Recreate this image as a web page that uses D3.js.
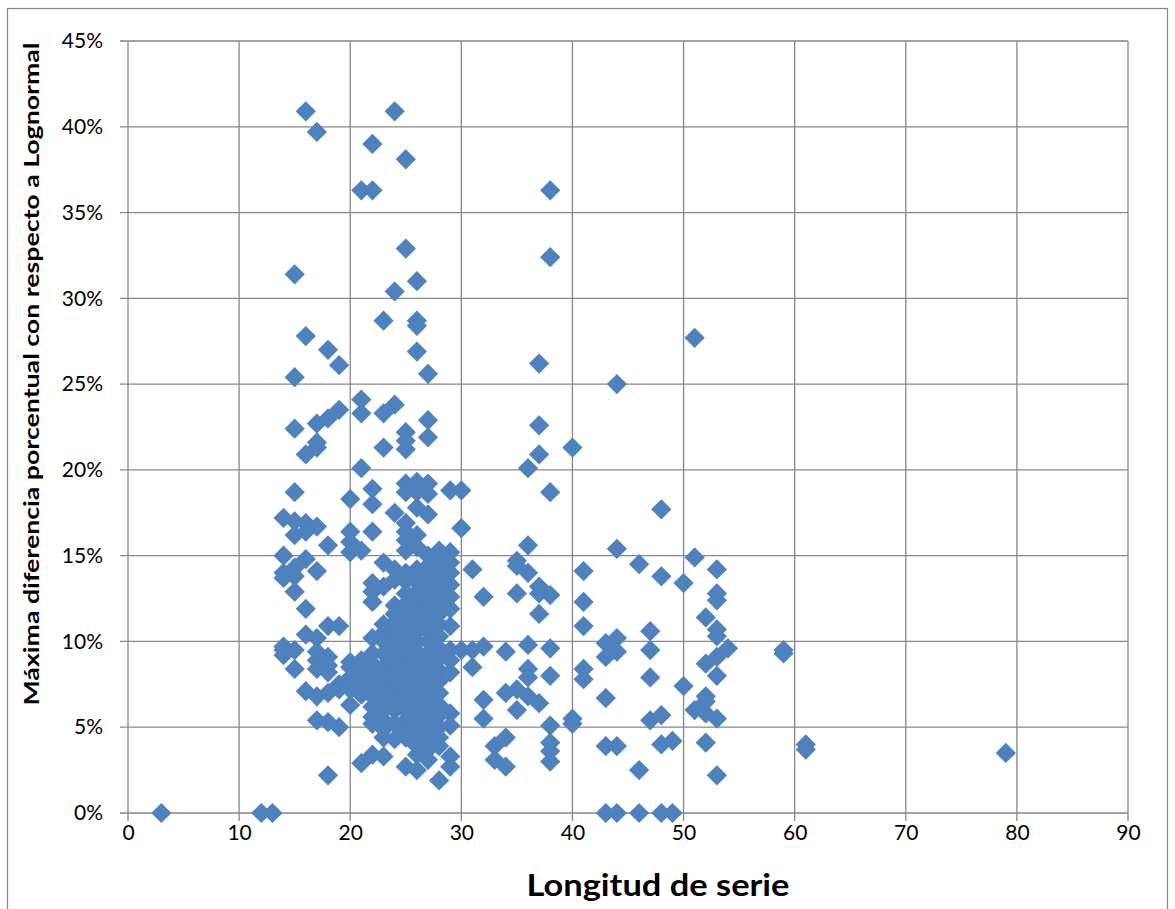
<!DOCTYPE html>
<html lang="es">
<head>
<meta charset="UTF-8">
<script src="https://d3js.org/d3.v7.min.js"></script>
<style>
  body { margin: 0; background: #fff; }
  svg { display: block; }
  .tick text { font-family: Lato, "Open Sans", sans-serif; font-size: 21px; fill: #000; }
  .axis-title { font-family: Lato, "Open Sans", sans-serif; font-weight: bold; fill: #000; }
</style>
</head>
<body>
<svg id="chart" width="1175" height="909"></svg>
<script>
// longitud de serie (x) and the diferencias (%) read for each longitud
const longitudes = [3, 12, 13, 14, 15, 16, 17, 18, 19, 20, 21, 22, 23, 24, 25, 26, 27, 28, 29, 30,
  31, 32, 33, 34, 35, 36, 37, 38, 40, 41, 43, 44, 46, 47, 48, 49, 50, 51, 52, 53, 54, 59, 61, 79];

const diferencias = [
  [0],
  [0],
  [0],
  [17.2, 15.0, 14.0, 13.7, 9.7, 9.2, 9.5],
  [31.4, 25.4, 22.4, 18.7, 17.0, 16.2, 14.3, 13.8, 12.9, 9.5, 8.4],
  [40.9, 27.8, 20.9, 16.9, 16.4, 14.8, 11.9, 10.4, 7.1],
  [39.7, 22.7, 21.6, 21.3, 16.7, 14.1, 10.2, 9.4, 8.9, 8.4, 6.8, 5.4],
  [27.0, 23.0, 15.6, 10.9, 9.1, 8.6, 8.2, 7.0, 5.3, 2.2],
  [26.1, 23.5, 10.9, 7.5, 7.2, 5.0],
  [18.3, 16.4, 15.8, 15.2, 8.8, 8.5, 7.9, 7.2, 6.3],
  [36.3, 24.1, 23.3, 20.1, 15.3, 8.9, 8.2, 7.6, 6.9, 2.9],
  [39.0, 36.3, 18.9, 18.0, 16.4, 13.4, 12.9, 12.3, 10.2, 9.3, 8.7, 8.0, 7.4, 6.8, 6.2, 5.6, 5.2, 3.4],
  [28.7, 23.3, 21.3, 14.6, 13.2, 11.0, 10.5, 10.0, 9.3, 8.5, 7.8, 7.2, 6.5, 6.0, 5.4, 4.9, 4.4, 3.3],
  [40.9, 30.4, 23.8, 17.5, 14.2, 13.6, 12.1, 11.6, 11.1, 10.6, 10.1, 9.6, 9.0, 8.5, 8.0, 7.5, 7.0, 6.5, 6.0, 5.2, 4.3],
  [38.1, 32.9, 22.2, 21.7, 21.2, 19.2, 18.7, 16.9, 16.4, 15.9, 15.3, 14.0, 13.5, 12.8, 12.2, 11.6, 11.0, 10.5,
   10.0, 9.5, 9.0, 8.5, 8.0, 7.3, 6.6, 6.0, 5.4, 4.8, 4.4, 2.7],
  [31.0, 28.7, 28.4, 26.9, 19.3, 18.7, 17.8, 16.2, 15.5, 14.2, 13.5, 12.9, 12.3, 11.7, 11.1, 10.6, 10.0, 9.4,
   8.8, 8.2, 7.6, 7.0, 6.4, 5.8, 5.2, 4.6, 3.9, 3.4, 2.5],
  [25.6, 22.9, 21.9, 19.2, 18.6, 17.4, 15.0, 14.4, 13.8, 13.1, 12.5, 11.9, 11.3, 10.6, 10.0, 9.3, 8.7, 8.1,
   7.5, 6.8, 6.2, 5.5, 4.9, 4.3, 3.7, 3.1],
  [15.3, 14.8, 14.2, 13.6, 12.9, 12.3, 11.6, 11.0, 10.3, 9.6, 9.0, 8.3, 7.7, 7.0, 6.3, 5.7, 5.0, 4.4, 3.9, 1.9],
  [18.8, 15.2, 14.6, 14.0, 13.3, 12.6, 11.9, 10.9, 9.5, 8.9, 8.2, 5.8, 5.1, 3.3, 2.7],
  [18.8, 16.6, 9.5],
  [14.2, 9.5, 8.5],
  [12.6, 9.7, 6.6, 5.5],
  [3.9, 3.1],
  [9.4, 7.0, 4.4, 2.7],
  [14.7, 14.4, 12.8, 7.2, 6.0],
  [20.1, 15.6, 14.0, 9.8, 8.4, 7.9, 6.8],
  [26.2, 22.6, 20.9, 13.2, 12.8, 11.6, 6.4],
  [36.3, 32.4, 18.7, 12.7, 9.6, 8.0, 5.1, 4.1, 3.6, 3.0],
  [21.3, 5.5, 5.2],
  [14.1, 12.3, 10.9, 8.4, 7.8],
  [9.9, 9.1, 6.7, 3.9, 0],
  [25.0, 15.4, 10.2, 9.4, 3.9, 0],
  [14.5, 2.5, 0],
  [10.6, 9.5, 7.9, 5.4],
  [17.7, 13.8, 5.7, 4.0, 0],
  [4.2, 0],
  [13.4, 7.4],
  [27.7, 14.9, 6.0],
  [11.4, 8.7, 6.8, 6.5, 5.8, 4.1],
  [14.2, 12.8, 12.4, 10.7, 10.3, 9.1, 8.0, 5.5, 2.2],
  [9.6],
  [9.5, 9.3],
  [4.0, 3.7],
  [3.5]
];

const xTicks = d3.range(0, 91, 10);
const yTicks = d3.range(0, 0.451, 0.05);

const puntos = [];
longitudes.forEach((len, i) => {
  diferencias[i].forEach(v => puntos.push({ x: len, y: v / 100 }));
});

const svg = d3.select("#chart");
const margin = { left: 128, right: 47, top: 41, bottom: 96 };
const W = 1175, H = 909;

const x = d3.scaleLinear().domain([0, 90]).range([margin.left, W - margin.right]);
const y = d3.scaleLinear().domain([0, 0.45]).range([H - margin.bottom, margin.top]);

// chart area border
svg.append("rect")
  .attr("x", 7.5).attr("y", 8.5)
  .attr("width", 1160).attr("height", 910)
  .attr("fill", "none")
  .attr("stroke", "#868686")
  .attr("stroke-width", 1.2);

const gridColor = "#878787";

// gridlines (extended a little past the axes to act as tick marks)
svg.append("g")
  .selectAll("line")
  .data(yTicks)
  .join("line")
  .attr("x1", x(0) - 8).attr("x2", x(90))
  .attr("y1", d => y(d)).attr("y2", d => y(d))
  .attr("stroke", gridColor).attr("stroke-width", 1.3);

svg.append("g")
  .selectAll("line")
  .data(xTicks)
  .join("line")
  .attr("x1", d => x(d)).attr("x2", d => x(d))
  .attr("y1", y(0.45)).attr("y2", y(0) + 8)
  .attr("stroke", gridColor).attr("stroke-width", 1.3);

const xAxis = svg.append("g")
  .attr("transform", `translate(0,${y(0)})`)
  .call(d3.axisBottom(x).tickValues(xTicks).tickSize(0).tickPadding(12));
xAxis.select(".domain").remove();

const yAxis = svg.append("g")
  .attr("transform", `translate(${x(0)},0)`)
  .call(d3.axisLeft(y).tickValues(yTicks).tickSize(0).tickPadding(25)
    .tickFormat(d => Math.round(d * 100) + "%"));
yAxis.select(".domain").remove();

// markers
const diamond = d3.symbol().type(d3.symbolSquare).size(205);
svg.append("g")
  .selectAll("path")
  .data(puntos)
  .join("path")
  .attr("d", diamond)
  .attr("transform", d => `translate(${x(d.x)},${y(d.y)}) rotate(45)`)
  .attr("fill", "#4F81BD");

// titles
svg.append("text")
  .attr("class", "axis-title")
  .attr("x", 658).attr("y", 896)
  .attr("text-anchor", "middle")
  .attr("textLength", 263)
  .attr("lengthAdjust", "spacingAndGlyphs")
  .style("font-size", "31px")
  .text("Longitud de serie");

svg.append("text")
  .attr("class", "axis-title")
  .attr("transform", "translate(39,374) rotate(-90)")
  .attr("text-anchor", "middle")
  .attr("textLength", 663)
  .attr("lengthAdjust", "spacingAndGlyphs")
  .style("font-size", "20px")
  .text("Máxima diferencia porcentual con respecto a Lognormal");
</script>
</body>
</html>
